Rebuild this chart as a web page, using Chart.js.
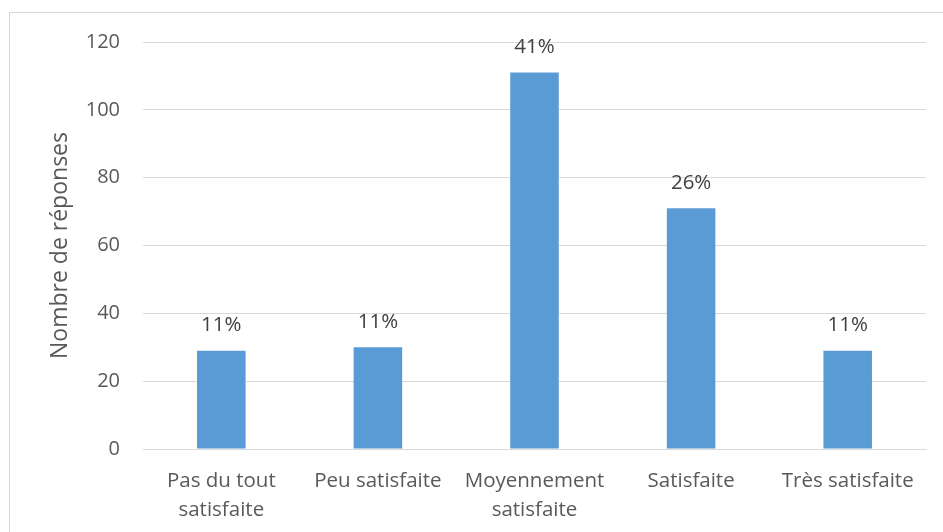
<!DOCTYPE html>
<html><head><meta charset="utf-8">
<script src="https://cdn.jsdelivr.net/npm/chart.js@4"></script>
<style>
html,body{margin:0;padding:0;background:#fff;overflow:hidden}
#wrap{position:absolute;left:0;top:0;width:943px;height:532px}
#frame{position:absolute;left:9px;top:12px;width:960px;height:560px;border:1px solid #d9d9d9;box-sizing:border-box}
canvas{position:absolute;left:0;top:0}
</style></head>
<body>
<div id="wrap"><div id="frame"></div><canvas id="c" width="943" height="532"></canvas></div>
<script>
const categories = [["Pas du tout","satisfaite"], "Peu satisfaite", ["Moyennement","satisfaite"], "Satisfaite", "Très satisfaite"];
const responses = [29, 30, 111, 71, 29];
const percentLabels = ["11%", "11%", "41%", "26%", "11%"];
const yTicks = [0, 20, 40, 60, 80, 100, 120];

const FONT = "'Open Sans', sans-serif";

const labelPlugin = {
  id: 'valLabels',
  afterDatasetsDraw(chart) {
    const ctx = chart.ctx;
    const meta = chart.getDatasetMeta(0);
    ctx.save();
    ctx.font = "20.5px " + FONT;
    ctx.fillStyle = "#404040";
    ctx.textAlign = "center";
    ctx.textBaseline = "middle";
    meta.data.forEach((bar, i) => {
      ctx.fillText(percentLabels[i], bar.x, bar.y - 25);
    });
    ctx.restore();
  }
};

new Chart(document.getElementById('c'), {
  type: 'bar',
  data: {
    labels: categories,
    datasets: [{
      data: responses,
      backgroundColor: '#5b9bd5',
      borderWidth: 0,
      barPercentage: 0.62,
      categoryPercentage: 0.5
    }]
  },
  options: {
    responsive: false,
    animation: false,
    devicePixelRatio: 1,
    layout: { padding: { left: 47, right: 17, top: 42, bottom: 0 } },
    plugins: { legend: { display: false }, tooltip: { enabled: false } },
    scales: {
      x: {
        grid: { display: false },
        border: { color: '#d9d9d9', width: 1 },
        ticks: { color: '#595959', font: { family: FONT, size: 20.5, lineHeight: 1.45 }, padding: 9, maxRotation: 0, autoSkip: false },
        afterFit(s) { s.height = 83; }
      },
      y: {
        min: 0, max: 120,
        afterBuildTicks(s) { s.ticks = yTicks.map(v => ({ value: v })); },
        grid: { color: '#d9d9d9', lineWidth: 1, drawTicks: false },
        border: { display: false },
        ticks: { color: '#595959', font: { family: FONT, size: 20 }, padding: 23 },
        title: { display: true, text: 'Nombre de réponses', color: '#595959', font: { family: FONT, size: 23 }, padding: 0 },
        afterFit(s) { s.width = 96; }
      }
    }
  },
  plugins: [labelPlugin]
});
</script>
</body></html>
